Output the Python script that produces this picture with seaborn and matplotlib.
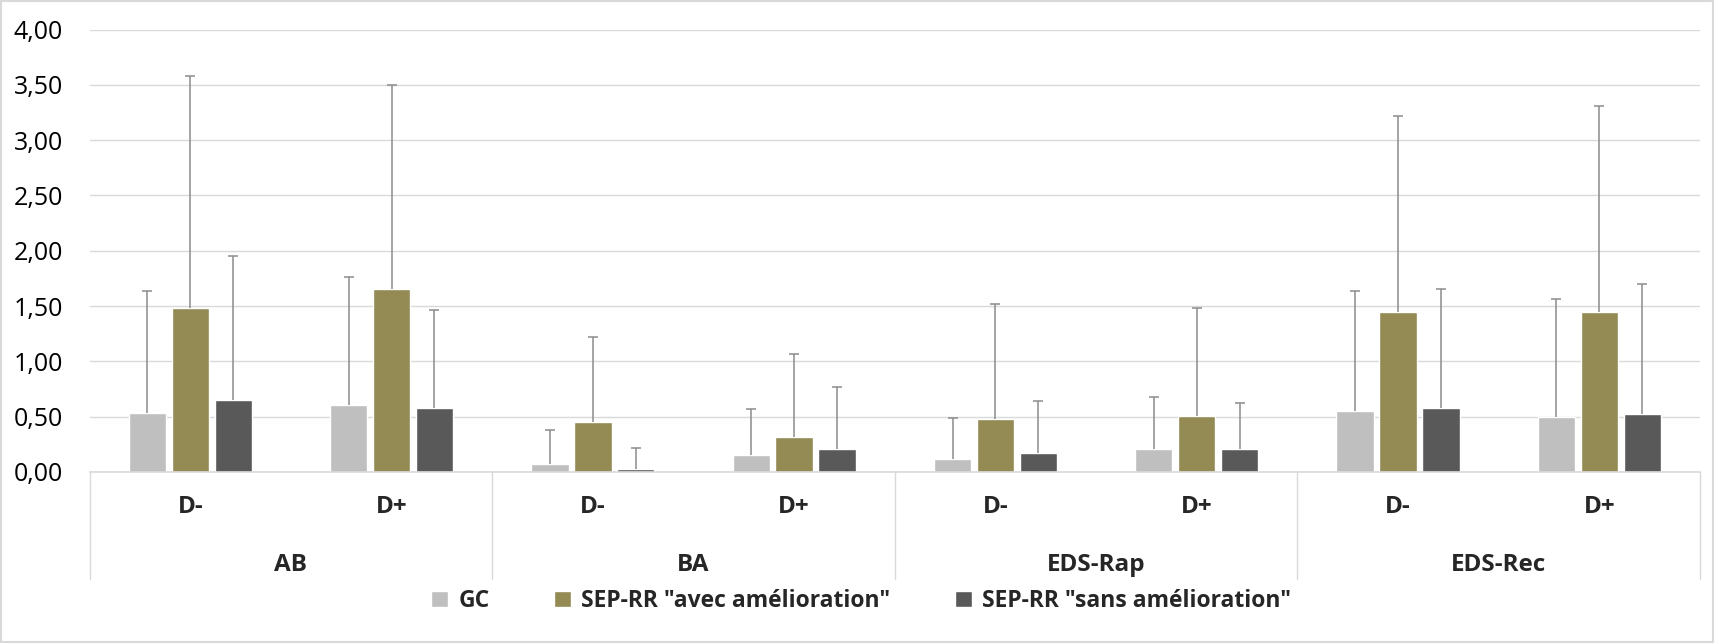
import matplotlib
matplotlib.use("Agg")
import matplotlib.pyplot as plt
import matplotlib.transforms as mtransforms
from matplotlib.patches import Rectangle
import seaborn as sns
import pandas as pd
import numpy as np

# ---- data ----
groups = ["AB", "BA", "EDS-Rap", "EDS-Rec"]
subcats = ["D-", "D+"]
series = ["GC", 'SEP-RR "avec amélioration"', 'SEP-RR "sans amélioration"']

gc_mean = [0.53, 0.61, 0.07, 0.15, 0.12, 0.21, 0.55, 0.50]
avec_mean = [1.48, 1.65, 0.45, 0.32, 0.48, 0.51, 1.45, 1.45]
sans_mean = [0.65, 0.58, 0.03, 0.21, 0.17, 0.21, 0.58, 0.52]

gc_sd = [1.11, 1.15, 0.31, 0.42, 0.37, 0.47, 1.09, 1.06]
avec_sd = [2.10, 1.85, 0.77, 0.75, 1.04, 0.97, 1.77, 1.86]
sans_sd = [1.30, 0.88, 0.19, 0.56, 0.47, 0.41, 1.07, 1.18]

y_ticks = [0, 0.5, 1.0, 1.5, 2.0, 2.5, 3.0, 3.5, 4.0]

colors = ["#bfbfbf", "#948a54", "#595959"]

# ---- build table ----
x_keys = [f"{g}|{s}" for g in groups for s in subcats]
means = [gc_mean, avec_mean, sans_mean]
sds = [gc_sd, avec_sd, sans_sd]
rows = []
for si, name in enumerate(series):
    for xi, key in enumerate(x_keys):
        rows.append({"x": key, "series": name, "value": means[si][xi]})
df = pd.DataFrame(rows)

sns.set_theme(style="white")
plt.rcParams["font.family"] = ["Open Sans", "DejaVu Sans"]

W, H = 1714, 643
fig = plt.figure(figsize=(W / 100, H / 100), dpi=100)
ax_left, ax_right = 89.6 / W, 1700 / W
ax_top, ax_bot = 29.5 / H, 472 / H
ax = fig.add_axes([ax_left, 1 - ax_bot, ax_right - ax_left, ax_bot - ax_top])

sns.barplot(data=df, x="x", y="value", hue="series", order=x_keys,
            hue_order=series, palette=colors, width=0.64, gap=0.13,
            errorbar=None, saturation=1, ax=ax, legend=True)

# error bars (upper only), positioned on the drawn bars
bar_conts = list(ax.containers)
for si, cont in enumerate(bar_conts):
    xs = np.array([p.get_x() + p.get_width() / 2 for p in cont.patches])
    ys = np.array([p.get_height() for p in cont.patches])
    _, caps, _ = ax.errorbar(xs, ys, yerr=[np.zeros(len(ys)), sds[si]],
                             fmt="none", ecolor="#8c8c8c", elinewidth=1.1,
                             capsize=3.5, capthick=1.1, zorder=1)
    for c in caps:
        if np.allclose(np.asarray(c.get_ydata(), dtype=float), ys):
            c.set_visible(False)

ax.set_ylim(0, 4)
ax.set_xlim(-0.5, len(x_keys) - 0.5)
ax.set_yticks(y_ticks)
ax.set_yticklabels([f"{v:.2f}".replace(".", ",") for v in y_ticks],
                   fontsize=18, color="#000000")
ax.tick_params(axis="y", length=0, pad=19)
ax.yaxis.grid(True, color="#d9d9d9", linewidth=1)
ax.set_axisbelow(True)
for s in ["top", "right", "left"]:
    ax.spines[s].set_visible(False)
ax.spines["bottom"].set_color("#d9d9d9")
ax.spines["bottom"].set_linewidth(1.2)
ax.set_xlabel("")
ax.set_ylabel("")
ax.set_xticks([])

trans = mtransforms.blended_transform_factory(ax.transData, ax.transAxes)
axh = (472 - 29.5)
# subcategory labels
for xi, key in enumerate(x_keys):
    ax.text(xi, -(507 - 472) / axh, key.split("|")[1], transform=trans,
            ha="center", va="center", fontsize=17.5, fontweight="bold")
# group labels
for gi, g in enumerate(groups):
    ax.text(gi * 2 + 0.5, -(565 - 472) / axh, g, transform=trans,
            ha="center", va="center", fontsize=17.5, fontweight="bold")
# separators
for b in range(len(groups) + 1):
    ax.plot([b * 2 - 0.5, b * 2 - 0.5], [0, -(579 - 472) / axh],
            transform=trans, color="#d9d9d9", linewidth=1, clip_on=False)

# legend
leg = ax.get_legend()
handles = leg.legend_handles
leg.remove()
fig.legend(handles, series, loc="center", bbox_to_anchor=(861 / W, 1 - 601 / H),
           ncol=3, frameon=False, handlelength=0.75,
           handleheight=0.75, handletextpad=0.45, columnspacing=2.8,
           prop={"weight": "bold", "size": 16.5})

fig.add_artist(Rectangle((0.0005, 0.001), 0.999, 0.998, transform=fig.transFigure,
                         fill=False, edgecolor="#d9d9d9", linewidth=1.5))

fig.savefig("out.png", dpi=100, facecolor="white")
